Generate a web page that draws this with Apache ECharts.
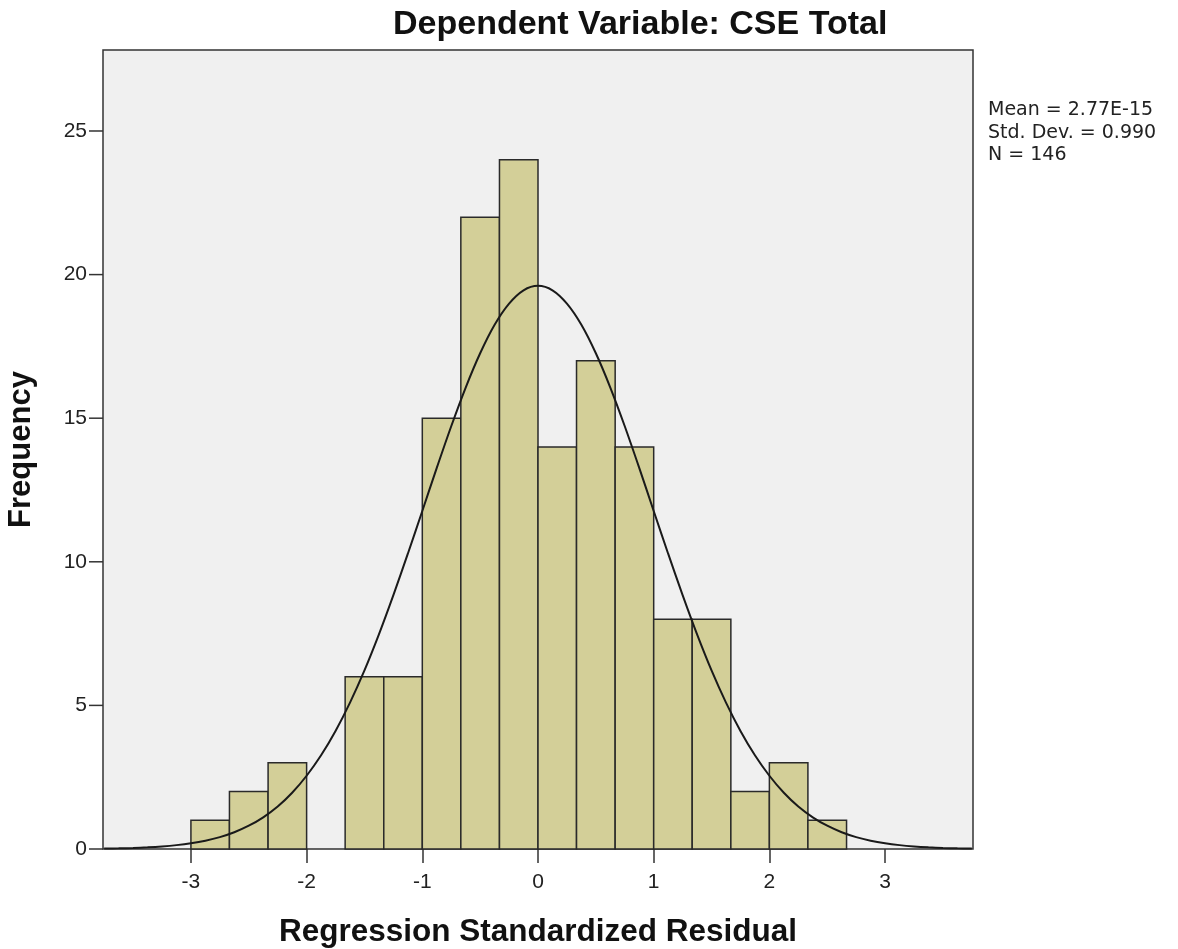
<!DOCTYPE html>
<html>
<head>
<meta charset="utf-8">
<script src="https://cdn.jsdelivr.net/npm/echarts@6/dist/echarts.min.js"></script>
<style>html,body{margin:0;padding:0;background:#fff;}#c{width:1178px;height:949px;}</style>
</head>
<body>
<div id="c"></div>
<script>
var binStart = [-3.000, -2.667, -2.333, -2.000, -1.667, -1.333, -1.000, -0.667, -0.333, 0.000, 0.333, 0.667, 1.000, 1.333, 1.667, 2.000, 2.333];
var binEnd   = [-2.667, -2.333, -2.000, -1.667, -1.333, -1.000, -0.667, -0.333, 0.000, 0.333, 0.667, 1.000, 1.333, 1.667, 2.000, 2.333, 2.667];
var counts   = [1, 2, 3, 0, 6, 6, 15, 22, 24, 14, 17, 14, 8, 8, 2, 3, 1];
var curveX = [-3.75, -3.625, -3.5, -3.375, -3.25, -3.125, -3.0, -2.875, -2.75, -2.625, -2.5, -2.375, -2.25, -2.125, -2.0, -1.875, -1.75, -1.625, -1.5, -1.375, -1.25, -1.125, -1.0, -0.875, -0.75, -0.625, -0.5, -0.375, -0.25, -0.125, 0.0,
              0.125, 0.25, 0.375, 0.5, 0.625, 0.75, 0.875, 1.0, 1.125, 1.25, 1.375, 1.5, 1.625, 1.75, 1.875, 2.0, 2.125, 2.25, 2.375, 2.5, 2.625, 2.75, 2.875, 3.0, 3.125, 3.25, 3.375, 3.5, 3.625, 3.75];
var curveY = [0.015, 0.024, 0.038, 0.059, 0.090, 0.135, 0.199, 0.289, 0.414, 0.583, 0.81, 1.104, 1.48, 1.959, 2.55, 3.262, 4.11, 5.098, 6.22, 7.475, 8.84, 10.282, 11.77, 13.270, 14.72, 16.067, 17.26, 18.253, 18.99, 19.454, 19.61,
              19.454, 18.99, 18.253, 17.26, 16.067, 14.72, 13.270, 11.77, 10.282, 8.84, 7.475, 6.22, 5.098, 4.11, 3.262, 2.55, 1.959, 1.48, 1.104, 0.81, 0.583, 0.414, 0.289, 0.199, 0.135, 0.090, 0.059, 0.038, 0.024, 0.015];
var xTicks = [-3, -2, -1, 0, 1, 2, 3];
var yTicks = [0, 5, 10, 15, 20, 25];
var statsLines = ['Mean = 2.77E-15', 'Std. Dev. = 0.990', 'N = 146'];
var titleText = 'Dependent Variable: CSE Total';
var xName = 'Regression Standardized Residual';
var yName = 'Frequency';

var barData = counts.map(function (c, i) { return [binStart[i], binEnd[i], c]; });
var curveData = curveX.map(function (x, i) { return [x, curveY[i]]; });
var yTickData = yTicks.map(function (v) { return [0, v]; });

var chart = echarts.init(document.getElementById('c'));
var font = '"Liberation Sans", Arial, sans-serif';
chart.setOption({
  animation: false,
  backgroundColor: '#ffffff',
  title: {
    text: titleText,
    left: 388, top: 3,
    textStyle: { fontFamily: font, fontSize: 34, fontWeight: 'bold', color: '#111' }
  },
  graphic: [{
    type: 'text', left: 988, top: 99,
    style: { text: statsLines.join('\n'), font: '19px "DejaVu Sans", sans-serif', fill: '#222', lineHeight: 22.5 }
  }],
  grid: {
    left: 103, right: 205, top: 50, bottom: 100,
    outerBoundsMode: 'none', containLabel: false,
    show: true, backgroundColor: '#f0f0f0', borderColor: '#333', borderWidth: 1.5
  },
  xAxis: {
    type: 'value', min: -3.76, max: 3.76,
    name: xName, nameLocation: 'middle', nameGap: 67,
    nameTextStyle: { fontFamily: font, fontSize: 31.5, fontWeight: 'bold', color: '#111' },
    axisLine: { show: false },
    splitLine: { show: false },
    axisTick: { show: true, customValues: xTicks, length: 14, lineStyle: { color: '#333', width: 1.5 } },
    axisLabel: { customValues: xTicks, fontFamily: font, fontSize: 21, color: '#222', margin: 23 }
  },
  yAxis: {
    type: 'value', min: 0, max: 27.82,
    name: yName, nameLocation: 'middle', nameGap: 66, nameRotate: 90,
    nameTextStyle: { fontFamily: font, fontSize: 31, fontWeight: 'bold', color: '#111' },
    axisLine: { show: false },
    splitLine: { show: false },
    axisTick: { show: false },
    axisLabel: { customValues: yTicks, fontFamily: font, fontSize: 21, color: '#222', margin: 16 }
  },
  series: [{
    type: 'custom',
    data: barData,
    z: 2,
    renderItem: function (params, api) {
      if (api.value(2) <= 0) return null;
      var p0 = api.coord([api.value(0), api.value(2)]);
      var p1 = api.coord([api.value(1), 0]);
      return {
        type: 'rect',
        shape: { x: p0[0], y: p0[1], width: p1[0] - p0[0], height: p1[1] - p0[1] },
        style: { fill: '#d3cf98', stroke: '#2a2a2a', lineWidth: 1.5 }
      };
    }
  }, {
    type: 'custom',
    data: yTickData,
    z: 3,
    clip: false,
    renderItem: function (params, api) {
      var y = api.coord([0, api.value(1)])[1];
      var x = params.coordSys.x;
      return {
        type: 'line',
        shape: { x1: x - 14, y1: y, x2: x, y2: y },
        style: { stroke: '#333', lineWidth: 1.5 }
      };
    }
  }, {
    type: 'line',
    data: curveData,
    smooth: 0.3,
    symbol: 'none',
    z: 5,
    lineStyle: { color: '#1a1a1a', width: 2 }
  }]
});
</script>
</body>
</html>
